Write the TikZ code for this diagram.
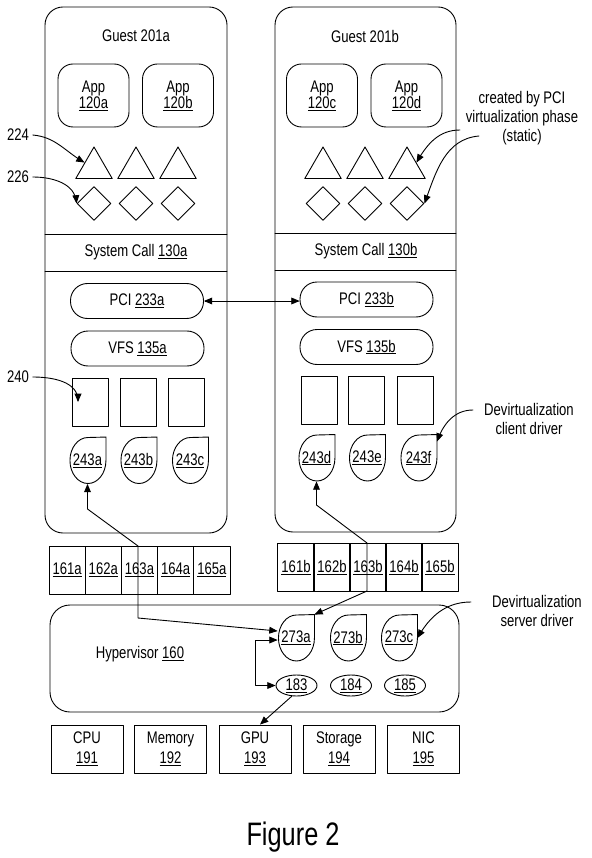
\documentclass[tikz,border=0pt]{standalone}
\usepackage{fontspec}
\setmainfont{Liberation Sans}[FakeStretch=0.78]
\usetikzlibrary{arrows,shapes.geometric}
\newcommand{\refno}[1]{\underline{#1}}
\newcommand{\drvnode}[3]{\node[drv] (#1) at (#2) {\refno{#3}};
	\draw (#1.north east) -- (#1.east) arc[start angle=0,end angle=-270,x radius=18pt,y radius=23pt] -- cycle;}

\begin{document}
\begin{tikzpicture}[x=1pt,y=1pt,line width=0.9pt,line cap=round,line join=round,>=triangle 45,
	every node/.style={font=\fontsize{16.8}{18}\selectfont},
	app/.style={draw,rounded corners=15pt,minimum width=71pt,minimum height=63pt,inner sep=0pt,align=center,font=\fontsize{16.8}{16}\selectfont},
	pill/.style={draw,rounded corners=17pt,minimum width=133pt,minimum height=35pt,inner sep=0pt},
	tri/.style={draw,regular polygon,regular polygon sides=3,minimum size=42pt,inner sep=0pt},
	dia/.style={draw,diamond,minimum width=34pt,minimum height=34pt,inner sep=0pt},
	slot/.style={draw,minimum width=36pt,minimum height=48pt,inner sep=0pt},
	drv/.style={minimum width=36pt,minimum height=46pt,inner sep=0pt},
	cell/.style={draw,minimum width=36.2pt,minimum height=48pt,inner sep=0pt},
	dev/.style={draw,ellipse,minimum width=41pt,minimum height=21pt,inner sep=0pt},
	hw/.style={draw,minimum width=72pt,minimum height=48pt,inner sep=0pt,align=center,font=\fontsize{16.8}{20}\selectfont},
	note/.style={align=center,font=\fontsize{16.8}{19}\selectfont}]
	\useasboundingbox (0,0) rectangle (591,-858);
	\draw[rounded corners=18pt] (45,-7) rectangle (227,-533);
	\draw[rounded corners=18pt] (275,-7) rectangle (456,-532);
	\draw (45,-234) -- (227,-234);
	\draw (45,-271) -- (227,-271);
	\draw (275,-233) -- (456,-233);
	\draw (275,-270) -- (456,-270);
	\node (guesta) at (136,-36) {Guest 201a};
	\node (guestb) at (365,-36) {Guest 201b};
	\node[app] (appa) at (93.5,-95.5) {App\\\refno{120a}};
	\node[app] (appb) at (178,-95.5) {App\\\refno{120b}};
	\node[app] (appc) at (322,-95.5) {App\\\refno{120c}};
	\node[app] (appd) at (406.5,-95.5) {App\\\refno{120d}};
	\foreach \x [count=\i] in {94,136,178} {
		\node[tri] (tria\i) at (\x,-168) {};
		\node[dia] (diaa\i) at (\x,-203.5) {};
	}
	\foreach \x [count=\i] in {323,365,407} {
		\node[tri] (trib\i) at (\x,-168) {};
		\node[dia] (diab\i) at (\x,-203.5) {};
	}
	\node (sysa) at (136,-252) {System Call \refno{130a}};
	\node (sysb) at (366,-251) {System Call \refno{130b}};
	\node[pill] (pcia) at (137,-301) {PCI \refno{233a}};
	\node[pill] (vfsa) at (137.5,-348.5) {VFS \refno{135a}};
	\node[pill] (pcib) at (366.5,-299.5) {PCI \refno{233b}};
	\node[pill] (vfsb) at (366.5,-347) {VFS \refno{135b}};
	\foreach \x [count=\i] in {90,138.5,186.5} \node[slot] (slota\i) at (\x,-402) {};
	\foreach \x [count=\i] in {319,366.5,415} \node[slot] (slotb\i) at (\x,-400) {};
	\foreach \n/\x in {243a/87.5,243b/138.5,243c/190} \drvnode{d\n}{\x,-460.5}{\n};
	\foreach \n/\x in {243d/316.5,243e/367,243f/418.5} \drvnode{d\n}{\x,-458}{\n};
	\foreach \i in {1,...,5} {
		\node[cell] (busa\i) at ({49+36.2*(\i-0.5)},-570) {\refno{16\i{}a}};
		\node[cell] (busb\i) at ({278+36*(\i-0.5)},-567.5) {\refno{16\i{}b}};
	}
	\draw[rounded corners=20pt] (50,-605) rectangle (459,-712);
	\node (hyp) at (140,-654) {Hypervisor \refno{160}};
	\foreach \n/\x in {273a/296,273b/348,273c/399} \drvnode{d\n}{\x,-638}{\n};
	\node[dev] (dev183) at (296.5,-685.5) {\refno{183}};
	\node[dev] (dev184) at (351,-685.5) {\refno{184}};
	\node[dev] (dev185) at (405,-685.5) {\refno{185}};
	\foreach \n/\x/\t/\k in {cpu/87/CPU/191,mem/170.5/Memory/192,gpu/255/GPU/193,sto/339/Storage/194,nic/423.5/NIC/195}
		\node[hw] (\n) at (\x,-749) {\t\\\refno{\k}};
	\coordinate (ka1) at (87.5,-509);
	\coordinate (ka2) at (138,-546);
	\coordinate (ka3) at (138,-618);
	\draw[<->] (d243a.south) -- (ka1) -- (ka2) -- (ka3) -- ([yshift=7pt]d273a.west);
	\coordinate (kb1) at (316.5,-505);
	\coordinate (kb2) at (367,-543);
	\coordinate (kb3) at (367,-591);
	\draw[<->] (d243d.south) -- (kb1) -- (kb2) -- (kb3) -- (d273a.north east);
	\coordinate (kc) at (255,-640);
	\draw[<->] ([yshift=-2pt]d273a.west) -- (kc) |- (dev183.west);
	\draw[->] ([xshift=-5pt]dev183.south) -- ([xshift=5pt]gpu.north);
	\draw[<->] (pcia.east) -- (pcia.east -| pcib.west);
	\node (l224) at (18,-135) {224};
	\node (l226) at (18,-177) {226};
	\node (l240) at (18,-377) {240};
	\draw[->] (l224.east) to[out=-5,in=150] (tria1.side 1);
	\draw[->] (l226.east) to[out=0,in=95] (diaa1.west);
	\draw[->] (l240.east) to[out=0,in=90] ([xshift=-12pt]slota1.center);
	\node[note] (notepci) at (522,-118) {created by PCI\\virtualization phase\\(static)};
	\coordinate (np1) at (460,-130);
	\coordinate (np2) at (479,-136);
	\draw[->] (np1) to[out=180,in=60] (trib3.side 3);
	\draw[->] (np2) to[out=185,in=70] (diab3.east);
	\node[note] (noteclient) at (529,-419) {Devirtualization\\client driver};
	\coordinate (nc) at (473,-410);
	\draw[->] (nc) to[out=180,in=70] ([yshift=-7pt]d243f.north east);
	\node[note] (noteserver) at (537,-611) {Devirtualization\\server driver};
	\coordinate (ns) at (471,-602);
	\draw[->] (ns) to[out=180,in=60] (d273c.east);
	\node[font=\fontsize{32.5}{33}\selectfont] (figlabel) at (293,-837) {Figure 2};
\end{tikzpicture}
\end{document}
